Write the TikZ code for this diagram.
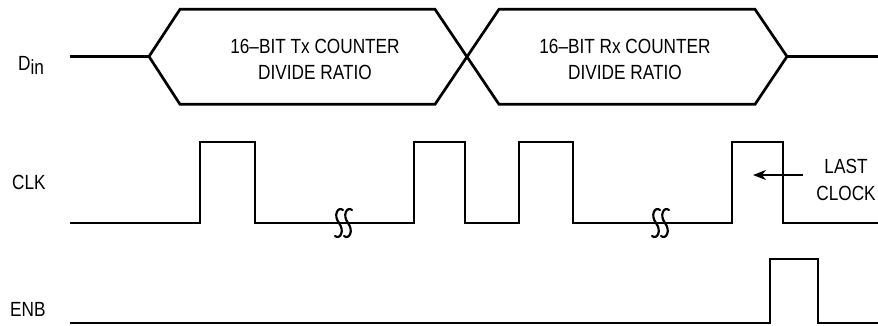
\documentclass[tikz,border=0pt]{standalone}
\usepackage{fontspec}
\setmainfont{Liberation Sans}[FakeStretch=0.84]
\usetikzlibrary{arrows.meta}
\begin{document}
\begin{tikzpicture}[x=1pt,y=-1pt,
  sig/.style={line width=2.7pt, line join=miter},
  lbl/.style={inner sep=0pt, font=\fontsize{20.5}{24}\selectfont},
  brk/.style={line width=2.2pt, line cap=round}]
\useasboundingbox (0,0) rectangle (878,325);
% labels
\node[lbl, anchor=base west] (din) at (18,70) {D\raisebox{-4pt}{in}};
\node[lbl, anchor=base west] (clk) at (12,189) {CLK};
\node[lbl, anchor=base west] (enb) at (10,316) {ENB};
% Din bus
\draw[sig] (70,56.5) -- (149,56.5) -- (180,9.3) -- (435,9.3) -- (499,104.3) -- (755,104.3) -- (787,56.5) -- (880,56.5);
\draw[sig] (149,56.5) -- (180,104.3) -- (435,104.3) -- (499,9.3) -- (755,9.3) -- (787,56.5);
\node[lbl, anchor=base] (tx1) at (315,53) {16–BIT Tx COUNTER};
\node[lbl, anchor=base] (tx2) at (315,79) {DIVIDE RATIO};
\node[lbl, anchor=base] (rx1) at (625,53) {16–BIT Rx COUNTER};
\node[lbl, anchor=base] (rx2) at (625,79) {DIVIDE RATIO};
% CLK
\draw[sig] (70,223) -- (200,223) -- (200,142) -- (255,142) -- (255,223) -- (414,223) -- (414,142) -- (465,142) -- (465,223) -- (519,223) -- (519,142) -- (573,142) -- (573,223) -- (732,223) -- (732,142) -- (783,142) -- (783,223) -- (880,223);
% breaks
\foreach \c in {339,348,656,665}{
  \draw[brk] (\c+4,210) .. controls (\c-1,206) and (\c-6,215) .. (\c,223)
             .. controls (\c+6,231) and (\c+1,240) .. (\c-4,236);
}
% ENB
\draw[sig] (70,323) -- (770,323) -- (770,259) -- (818,259) -- (818,323) -- (880,323);
% last clock
\node[lbl, anchor=base] (last) at (846,173) {LAST};
\node[lbl, anchor=base] (clock) at (846,200) {CLOCK};
\coordinate (as) at (803,175);
\coordinate (ae) at (753,175);
\draw[line width=1.5pt, -{Stealth[length=13pt,width=10pt,inset=4pt]}] (as) -- (ae);
\end{tikzpicture}
\end{document}
